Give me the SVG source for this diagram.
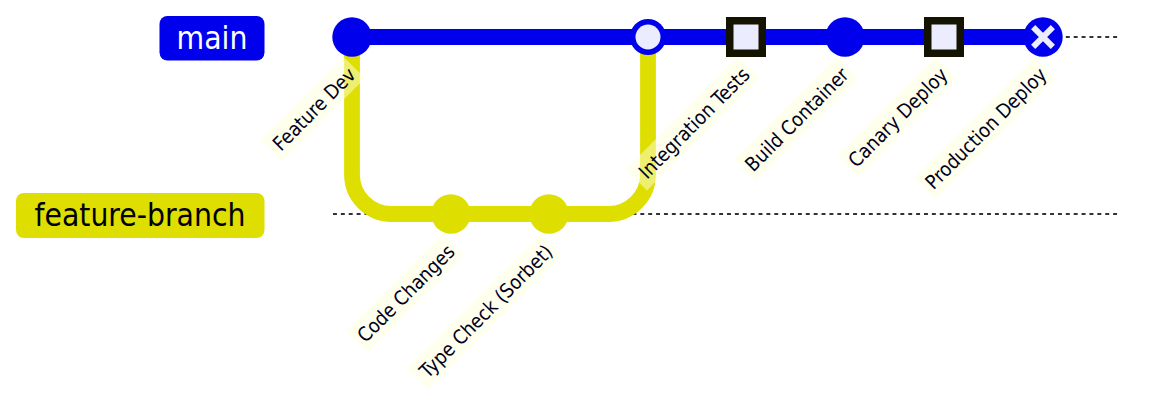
<svg xmlns="http://www.w3.org/2000/svg" width="1154" height="408" viewBox="0 0 1154 408">
<style>
.bline{stroke:#333333;stroke-width:2;stroke-dasharray:3.94 3.94;fill:none}
.arrow{fill:none;stroke-width:15.8;stroke-linecap:round}
.a0{stroke:#0000ec}
.a1{stroke:#dede00}
.c0{fill:#0000ec}
.c1{fill:#dede00}
.hl-out{fill:#131300}
.inner{fill:#ececff}
.rev{stroke:#ececff;stroke-width:5.9;fill:none}
.lbg{fill:#ffffde;opacity:0.5}
.lbl{font-family:"DejaVu Sans Condensed","DejaVu Sans",sans-serif;font-stretch:condensed;font-size:19.7px;fill:#000021;text-anchor:end}
.blbl{font-family:"DejaVu Sans Condensed","DejaVu Sans",sans-serif;font-stretch:condensed;font-size:31.5px;text-anchor:middle}
</style>
<g id="branch-lines">
<line class="bline" x1="333" y1="37" x2="1118" y2="37"/>
<line class="bline" x1="333" y1="214" x2="1118" y2="214"/>
</g>
<g id="branch-main">
<rect x="159.5" y="16" width="105" height="44.5" rx="7.9" fill="#0000ec"/>
<text class="blbl" x="212" y="48.5" fill="#ffffff">main</text>
</g>
<g id="branch-feature-branch">
<rect x="16" y="193" width="248.5" height="45" rx="7.9" fill="#dede00"/>
<text class="blbl" x="140" y="226" fill="#000000">feature-branch</text>
</g>
<g id="connectors">
<path class="arrow a0" d="M352,37 L1043,37"/>
<path class="arrow a1" d="M352,37 L352,174.6 A39.4,39.4 0 0 0 391.4,214 L451,214"/>
<path class="arrow a1" d="M451,214 L549,214"/>
<path class="arrow a1" d="M549,214 L608.6,214 A39.4,39.4 0 0 0 648,174.6 L648,37"/>
</g>
<g id="commit-feature-dev"><circle class="c0" cx="352" cy="37" r="19.7"/></g>
<g id="commit-code-changes"><circle class="c1" cx="451" cy="214" r="19.7"/></g>
<g id="commit-type-check"><circle class="c1" cx="549" cy="214" r="19.7"/></g>
<g id="commit-merge"><circle class="c0" cx="648" cy="37" r="18"/><circle class="inner" cx="648" cy="37" r="12.5"/></g>
<g id="commit-integration-tests"><rect class="hl-out" x="726" y="17" width="40" height="40"/><rect class="inner" x="733.5" y="24.5" width="25" height="25"/></g>
<g id="commit-build-container"><circle class="c0" cx="845" cy="37" r="19.7"/></g>
<g id="commit-canary-deploy"><rect class="hl-out" x="924" y="17" width="40" height="40"/><rect class="inner" x="931.5" y="24.5" width="25" height="25"/></g>
<g id="commit-production-deploy"><circle class="c0" cx="1043" cy="37" r="19.7"/><path class="rev" d="M1033.15,27.15 L1052.85,46.85 M1033.15,46.85 L1052.85,27.15"/></g>
<g id="commit-labels">
<g transform="translate(357,76) rotate(-45)"><rect class="lbg" x="-113" y="-22.7" width="117" height="30"/><text class="lbl">Feature Dev</text></g>
<g transform="translate(456,253) rotate(-45)"><rect class="lbg" x="-132.2" y="-22.7" width="136.2" height="30"/><text class="lbl">Code Changes</text></g>
<g transform="translate(554,253) rotate(-45)"><rect class="lbg" x="-185.6" y="-22.7" width="189.6" height="30"/><text class="lbl">Type Check (Sorbet)</text></g>
<g transform="translate(751,76) rotate(-45)"><rect class="lbg" x="-154.5" y="-22.7" width="158.5" height="30"/><text class="lbl">Integration Tests</text></g>
<g transform="translate(850,76) rotate(-45)"><rect class="lbg" x="-140.8" y="-22.7" width="144.8" height="30"/><text class="lbl">Build Container</text></g>
<g transform="translate(949,76) rotate(-45)"><rect class="lbg" x="-134.9" y="-22.7" width="138.9" height="30"/><text class="lbl">Canary Deploy</text></g>
<g transform="translate(1048,76) rotate(-45)"><rect class="lbg" x="-166.8" y="-22.7" width="170.8" height="30"/><text class="lbl">Production Deploy</text></g>
</g>
</svg>
